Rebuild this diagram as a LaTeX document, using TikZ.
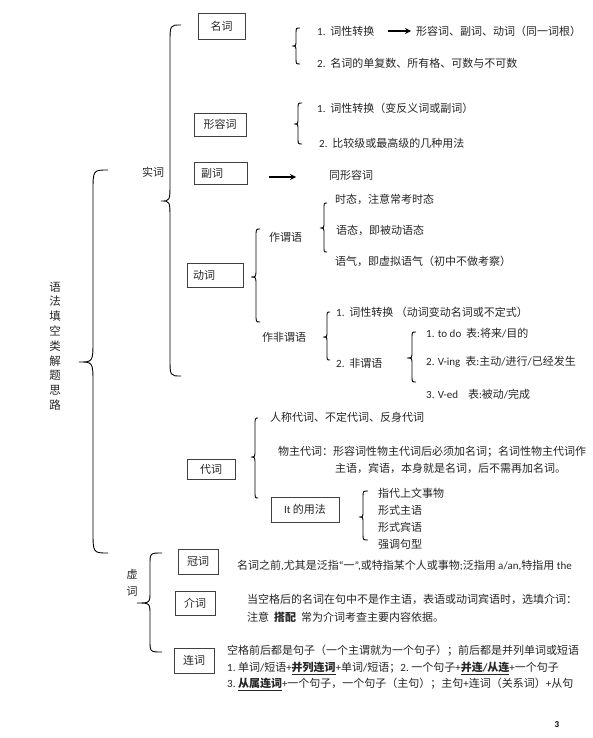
\documentclass[tikz,border=0pt]{standalone}
\usepackage{fontspec}
\usetikzlibrary{arrows.meta}
\setmainfont{Noto Sans CJK SC}
\newfontfamily\lat{Carlito}
\newcommand{\brc}[7]{%
\draw[bracestyle] (#1,#2) .. controls (#4,#2) .. (#4,#2+#7) -- (#4,#6-#7) .. controls (#4,#6) .. (#5,#6) .. controls (#4,#6) .. (#4,#6+#7) -- (#4,#3-#7) .. controls (#4,#3) .. (#1,#3);}
\begin{document}
\begin{tikzpicture}[x=1pt,y=-1pt,
  bracestyle/.style={line width=0.9pt,black},
  txt/.style={anchor=west,inner sep=0pt,font=\fontsize{11}{12}\selectfont,text=black!85},
  box/.style={draw=black!75,line width=0.8pt,inner sep=0pt,font=\fontsize{11}{12}\selectfont,text=black!85},
  arr/.style={line width=1.2pt,-{Stealth[length=6pt,width=6pt]}}]
\useasboundingbox[fill=white] (0,0) rectangle (593,738);
% title
\node[align=center,font=\fontsize{11.5}{14.8}\selectfont,inner sep=0pt,text=black!85] (title) at (55,346) {语\\法\\填\\空\\类\\解\\题\\思\\路};
\brc{108}{170}{553}{93}{79}{362}{22}
% shici
\node[txt] (shici) at (142,172) {实词};
\brc{181}{25}{376}{170}{161}{201}{18}
% boxes
\node[box,minimum width=47pt,minimum height=26pt] (mingci) at (221.5,26) {名词};
\node[box,minimum width=52pt,minimum height=23pt] (xrc) at (220,124.5) {形容词};
\node[box,minimum width=53pt,minimum height=22pt,text width=39pt,align=left,inner xsep=7pt] (fuci) at (220.5,173) {副词};
\node[box,minimum width=56pt,minimum height=24pt,text width=44pt,align=left,inner xsep=6pt] (dongci) at (215,275) {动词};
\node[box,minimum width=48pt,minimum height=20pt] (daici) at (211,469) {代词};
\node[box,minimum width=68pt,minimum height=25pt] (it) at (305,509.5) {{\lat It} 的用法};
\node[box,minimum width=40pt,minimum height=25pt] (guanci) at (198,561.5) {冠词};
\node[box,minimum width=40pt,minimum height=24pt] (jieci) at (195,603) {介词};
\node[box,minimum width=40pt,minimum height=25pt] (lianci) at (194,660.5) {连词};
% mingci
\brc{300}{28}{64}{296}{292}{46}{6}
\node[txt] (m1) at (317,31) {{\lat 1.}\ \ 词性转换};
\node[txt] (m1b) at (416,31) {形容词、副词、动词（同一词根）};
\coordinate (a1s) at (388,31);
\coordinate (a1e) at (411,31);
\draw[arr] (a1s) -- (a1e);
\node[txt] (m2) at (317,63) {{\lat 2.}\ \ 名词的单复数、所有格、可数与不可数};
% xingrongci
\brc{302}{103}{144}{298}{294}{124}{6}
\node[txt] (x1) at (317,108) {{\lat 1.}\ \ 词性转换（变反义词或副词）};
\node[txt] (x2) at (319,143) {{\lat 2.}\ \ 比较级或最高级的几种用法};
% fuci
\coordinate (a2s) at (269,177);
\coordinate (a2e) at (296,177);
\draw[arr] (a2s) -- (a2e);
\node[txt] (f1) at (329,175) {同形容词};
% dongci
\brc{260}{229}{322}{256}{251}{277}{8}
\node[txt] (zwy) at (269,237) {作谓语};
\brc{327}{203}{252}{324}{320}{228}{6}
\node[txt] (d1) at (335,199) {时态，注意常考时态};
\node[txt] (d2) at (336,230) {语态，即被动语态};
\node[txt] (d3) at (335,261) {语气，即虚拟语气（初中不做考察）};
\node[txt] (zfwy) at (262,337) {作非谓语};
\brc{330}{312}{360}{327}{323}{337}{6}
\node[txt] (n1) at (336,312) {{\lat 1.}\ \ 词性转换\ （动词变动名词或不定式）};
\node[txt] (n2) at (336,363) {{\lat 2.}\ \ 非谓语};
\brc{416}{332}{382}{412}{407}{358}{6}
\node[txt] (v1) at (426,333) {{\lat 1. to do}\ \ 表{\lat :}将来{\lat /}目的};
\node[txt] (v2) at (426,362) {{\lat 2. V-ing}\ \ 表{\lat :}主动{\lat /}进行{\lat /}已经发生};
\node[txt] (v3) at (426,394) {{\lat 3. V-ed}\ \ \ \ 表{\lat :}被动{\lat /}完成};
% daici
\brc{258}{418}{498}{255}{251}{457}{8}
\node[txt] (p1) at (270,417) {人称代词、不定代词、反身代词};
\node[txt] (p2) at (278,452) {物主代词：形容词性物主代词后必须加名词；名词性物主代词作};
\node[txt] (p3) at (335,468) {主语，宾语，本身就是名词，后不需再加名词。};
\brc{368}{491}{540}{363}{359}{517}{6}
\node[txt] (i1) at (378,493) {指代上文事物};
\node[txt] (i2) at (378,510) {形式主语};
\node[txt] (i3) at (378,527) {形式宾语};
\node[txt] (i4) at (378,544) {强调句型};
% xuci
\node[align=center,font=\fontsize{11}{17}\selectfont,inner sep=0pt,text=black!85] (xuci) at (132,582.5) {虚\\词};
\brc{162}{553}{652}{150}{137}{603}{12}
\node[txt] (g1) at (237,566) {名词之前{\lat ,}尤其是泛指{\lat “}一{\lat ”,}或特指某个人或事物{\lat ;}泛指用 {\lat a/an,}特指用 {\lat the}};
\node[txt] (j1) at (247,599) {当空格后的名词在句中不是作主语，表语或动词宾语时，选填介词：};
\node[txt] (j2) at (247,617) {注意\ \ \textbf{搭配}\ \ 常为介词考查主要内容依据。};
\node[txt] (l1) at (227,651) {空格前后都是句子（一个主谓就为一个句子）；前后都是并列单词或短语};
\node[txt] (l2) at (227,668) {{\lat 1.}\ 单词{\lat /}短语{\lat +}\underline{\textbf{并列连词}}{\lat +}单词{\lat /}短语；{\lat 2.}\ 一个句子{\lat +}\underline{\textbf{并连{\lat /}从连}}{\lat +}一个句子};
\node[txt] (l3) at (227,684) {{\lat 3.}\ \underline{\textbf{从属连词}}{\lat +}一个句子，一个句子（主句）；主句{\lat +}连词（关系词）{\lat +}从句};
\node[inner sep=0pt,font=\lat\fontsize{9}{10}\selectfont\bfseries] (pg) at (557,725) {3};
\end{tikzpicture}
\end{document}
